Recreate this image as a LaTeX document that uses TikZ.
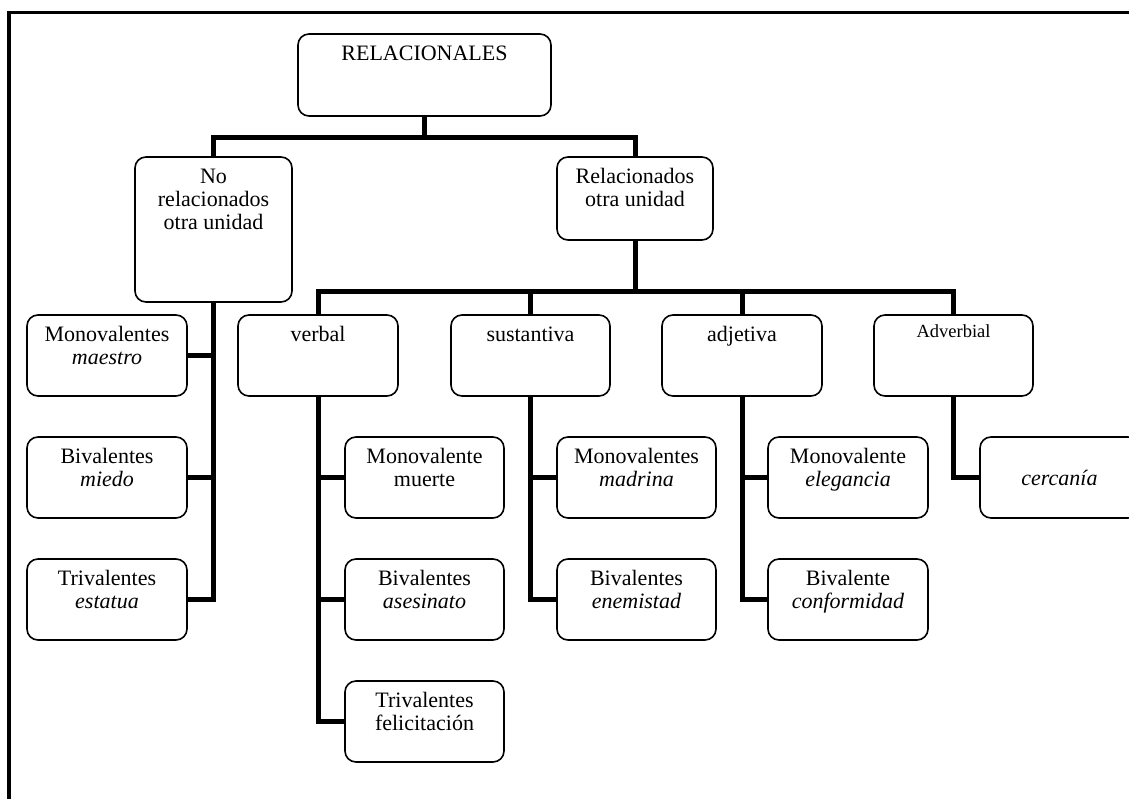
\documentclass[tikz,border=0pt]{standalone}
\usepackage{fontspec}
\setmainfont{Liberation Serif}
\newcommand\toptext[4][26]{\parbox[c][#2pt][t]{#3pt}{\centering\rule{0pt}{#1pt}#4}}
\newcommand\midtext[3]{\parbox[c][#1pt][c]{#2pt}{\centering #3}}
\tikzset{
  cellbox/.style={draw, line width=1.6pt, rounded corners=11pt, inner sep=0pt,
    font=\fontsize{22}{23}\selectfont},
  conn/.style={line width=5pt, line join=miter},
  frameline/.style={line width=3.5pt}
}
\begin{document}
\begin{tikzpicture}[x=1pt, y=-1pt]
\useasboundingbox (0,0) rectangle (1129,798);
\clip (0,0) rectangle (1129,798);
\fill[white] (0,0) rectangle (1129,798);

% outer frame (top and left edges)
\draw[frameline] (9,840) -- (9,12.5) -- (1160,12.5);

% root and first level
\node[cellbox] (rel)   at (424.5,75)    {\toptext{82}{253}{RELACIONALES}};
\node[cellbox] (norel) at (213.5,229.5) {\toptext{145}{157}{No\\relacionados\\otra unidad}};
\node[cellbox] (relac) at (635,198.5)   {\toptext{83}{156}{Relacionados\\otra unidad}};

% children of "No relacionados"
\node[cellbox] (mono) at (107,355.5) {\toptext{81}{160}{Monovalentes\\\textit{maestro}}};
\node[cellbox] (biv)  at (107,477.5) {\toptext{81}{160}{Bivalentes\\\textit{miedo}}};
\node[cellbox] (triv) at (107,599.5) {\toptext{81}{160}{Trivalentes\\\textit{estatua}}};

% categories of "Relacionados"
\node[cellbox] (verbal) at (318,355.5)   {\toptext{81}{160}{verbal}};
\node[cellbox] (sust)   at (530.5,355.5) {\toptext{81}{159}{sustantiva}};
\node[cellbox] (adj)    at (742,355.5)   {\toptext{81}{160}{adjetiva}};
\node[cellbox] (adv)    at (953.5,355.5) {\toptext[22]{81}{159}{\fontsize{18.5}{20}\selectfont Adverbial}};

% verbal
\node[cellbox] (vmono) at (424.5,477.5) {\toptext{81}{159}{Monovalente\\muerte}};
\node[cellbox] (vbiv)  at (424.5,599.5) {\toptext{81}{159}{Bivalentes\\\textit{asesinato}}};
\node[cellbox] (vtriv) at (424.5,721.5) {\toptext{81}{159}{Trivalentes\\felicitación}};

% sustantiva
\node[cellbox] (smono) at (636.5,477.5) {\toptext{81}{159}{Monovalentes\\\textit{madrina}}};
\node[cellbox] (sbiv)  at (636.5,599.5) {\toptext{81}{159}{Bivalentes\\\textit{enemistad}}};

% adjetiva
\node[cellbox] (amono) at (848,477.5) {\toptext{81}{160}{Monovalente\\\textit{elegancia}}};
\node[cellbox] (abiv)  at (848,599.5) {\toptext{81}{160}{Bivalente\\\textit{conformidad}}};

% adverbial
\node[cellbox] (dmono) at (1059.5,477.5) {\midtext{81}{159}{\textit{cercanía}}};

% connectors
\coordinate (j1) at (424.5,137);
\draw[conn] (rel.south) -- (j1);
\draw[conn] (norel.north) |- (j1) -| (relac.north);

\draw[conn] (norel.south) |- (mono.east);
\draw[conn] (norel.south) |- (biv.east);
\draw[conn] (norel.south) |- (triv.east);

\coordinate (j2) at (635,291);
\draw[conn] (relac.south) -- (j2);
\draw[conn] (verbal.north) |- (j2) -| (adv.north);
\draw[conn] (sust.north) -- (sust.north |- j2);
\draw[conn] (adj.north) -- (adj.north |- j2);

\draw[conn] (verbal.south) |- (vmono.west);
\draw[conn] (verbal.south) |- (vbiv.west);
\draw[conn] (verbal.south) |- (vtriv.west);

\draw[conn] (sust.south) |- (smono.west);
\draw[conn] (sust.south) |- (sbiv.west);

\draw[conn] (adj.south) |- (amono.west);
\draw[conn] (adj.south) |- (abiv.west);

\draw[conn] (adv.south) |- (dmono.west);
\end{tikzpicture}
\end{document}
